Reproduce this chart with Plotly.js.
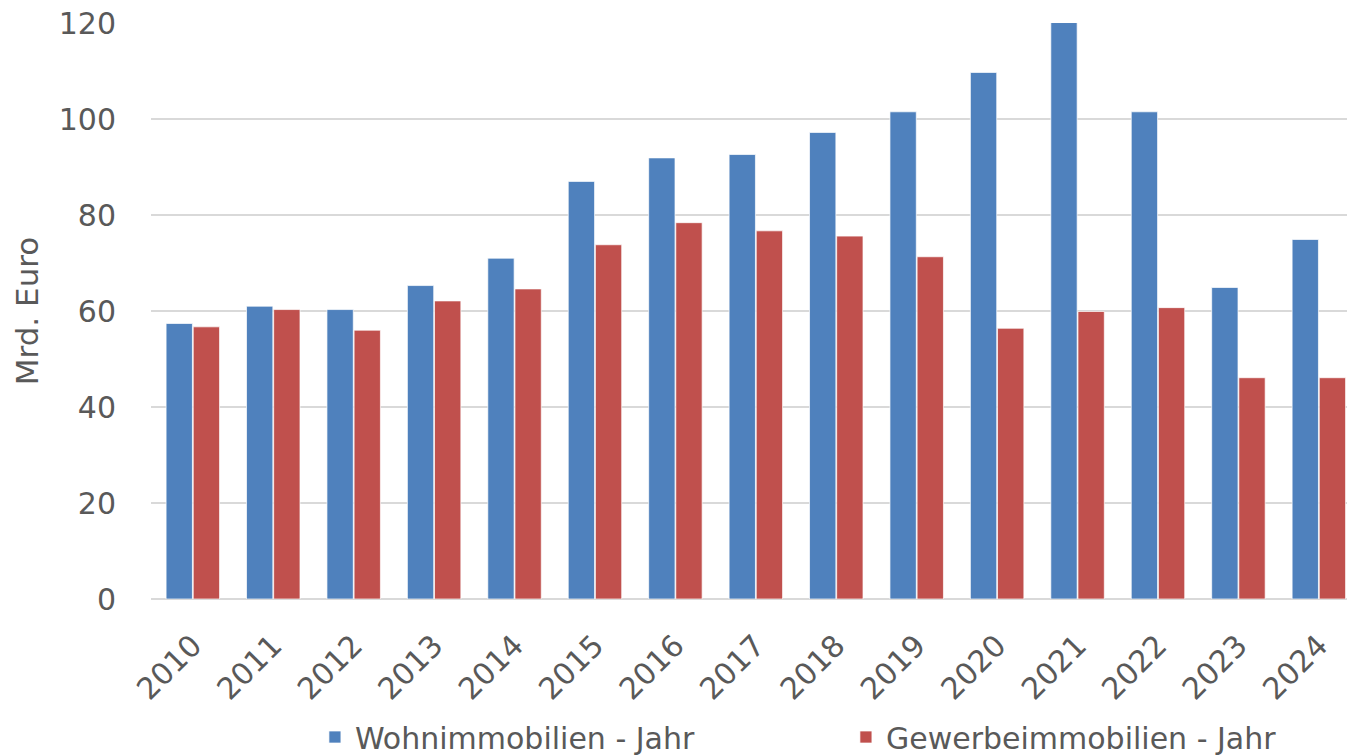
<!DOCTYPE html>
<html>
<head>
<meta charset="utf-8">
<script src="https://cdn.plot.ly/plotly-3.0.1.min.js"></script>
<style>html,body{margin:0;padding:0;background:#fff;}#chart{width:1347px;height:756px;}</style>
</head>
<body>
<div id="chart"></div>
<script>
const years = ['2010','2011','2012','2013','2014','2015','2016','2017','2018','2019','2020','2021','2022','2023','2024'];
const wohnimmobilien = [57.4, 61.0, 60.3, 65.3, 71.0, 87.0, 91.9, 92.6, 97.2, 101.5, 109.7, 120.1, 101.5, 64.9, 74.9];
const gewerbeimmobilien = [56.7, 60.3, 56.0, 62.1, 64.6, 73.8, 78.4, 76.7, 75.6, 71.3, 56.4, 59.9, 60.7, 46.1, 46.1];
const yTicks = [0, 20, 40, 60, 80, 100, 120];

const font = {family: 'DejaVu Sans, Verdana, sans-serif', size: 30, color: '#595959'};

const traces = [
  {type: 'bar', name: 'Wohnimmobilien - Jahr', x: years, y: wohnimmobilien, legendwidth: 486,
   marker: {color: '#4f81bd', line: {color: 'rgba(255,255,255,0.7)', width: 1}}},
  {type: 'bar', name: 'Gewerbeimmobilien - Jahr', x: years, y: gewerbeimmobilien, legendwidth: 400,
   marker: {color: '#c0504d', line: {color: 'rgba(255,255,255,0.7)', width: 1}}}
];

const layout = {
  width: 1347, height: 756,
  margin: {l: 151, r: 0, t: 23, b: 157},
  paper_bgcolor: '#fff', plot_bgcolor: '#fff',
  font: font,
  barmode: 'group', bargap: 0.325, bargroupgap: 0.03,
  showlegend: true,
  legend: {orientation: 'h', xref: 'container', yref: 'container',
           x: 0.2338, xanchor: 'left', y: 0.0595, yanchor: 'top',
           font: font, traceorder: 'normal'},
  xaxis: {type: 'category', range: [-0.52, 14.35], tickangle: -45, tickfont: font,
          showgrid: false, showline: false, ticks: 'outside', ticklen: 16, tickcolor: 'rgba(0,0,0,0)',
          fixedrange: true},
  yaxis: {range: [0, 120], tickvals: yTicks, tickfont: font,
          gridcolor: '#d9d9d9', gridwidth: 2, zeroline: true, zerolinecolor: '#d9d9d9', zerolinewidth: 2,
          ticks: 'outside', ticklen: 28, tickcolor: 'rgba(0,0,0,0)',
          title: {text: 'Mrd. Euro', font: {family: font.family, size: 31, color: font.color}, standoff: 10}}
};

Plotly.newPlot('chart', traces, layout, {displayModeBar: false, staticPlot: true});
</script>
</body>
</html>
